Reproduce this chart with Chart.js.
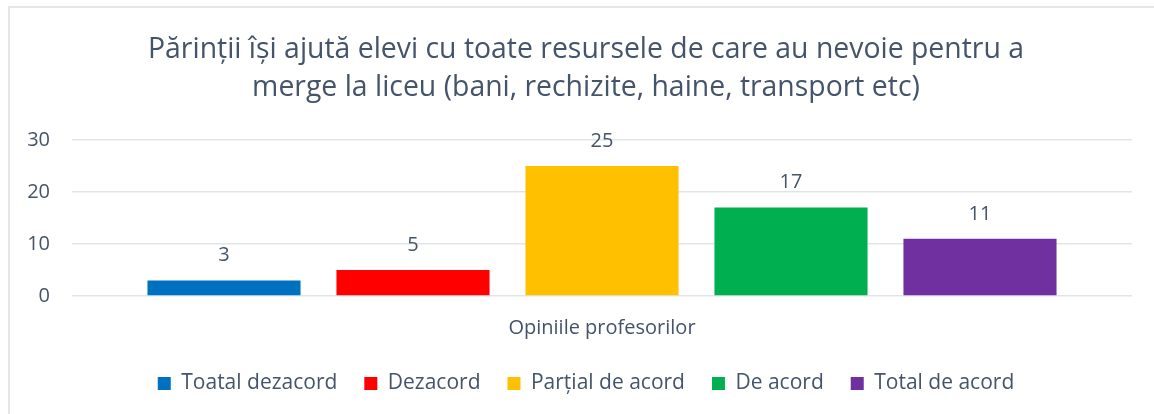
<!DOCTYPE html>
<html><head><meta charset="utf-8">
<script src="https://cdn.jsdelivr.net/npm/chart.js@4/dist/chart.umd.min.js"></script>
<style>
html,body{margin:0;padding:0;background:#fff;width:1154px;height:414px;overflow:hidden;}
#frame{position:absolute;left:8px;top:6px;width:1170px;height:430px;border-left:2px solid #e3e6ea;border-top:2px solid #e3e6ea;box-sizing:border-box;}
canvas{position:absolute;left:0;top:0;}
</style></head>
<body>
<div id="frame"></div>
<canvas id="c" width="1154" height="420"></canvas>
<script>
const titleLines = ["Părinții își ajută elevi cu toate resursele de care au nevoie pentru a", "merge la liceu (bani, rechizite, haine, transport etc)"];
const categories = ["Opiniile profesorilor"];
const seriesNames = ["Toatal dezacord", "Dezacord", "Parțial de acord", "De acord", "Total de acord"];
const seriesValues = [[3], [5], [25], [17], [11]];
const seriesColors = ["#0070C0", "#FF0000", "#FFC000", "#00B050", "#7030A0"];
const yTicks = [0, 10, 20, 30];

const FONT = "'Open Sans', sans-serif";
const TXT = "#44546A";

const valueLabels = {
  id: 'valueLabels',
  afterDatasetsDraw(chart) {
    const ctx = chart.ctx;
    ctx.save();
    ctx.font = "20px " + FONT;
    ctx.fillStyle = TXT;
    ctx.textAlign = "center";
    ctx.textBaseline = "middle";
    chart.data.datasets.forEach((ds, i) => {
      chart.getDatasetMeta(i).data.forEach((bar, j) => {
        ctx.fillText(String(ds.data[j]), bar.x, bar.y - 25);
      });
    });
    ctx.restore();
  }
};

new Chart(document.getElementById('c'), {
  type: 'bar',
  data: {
    labels: categories,
    datasets: seriesNames.map((n, i) => ({
      label: n, data: seriesValues[i], backgroundColor: seriesColors[i],
      categoryPercentage: 0.8915, barPercentage: 0.81
    }))
  },
  options: {
    responsive: false, animation: false,
    layout: { padding: { left: 26, right: 8, top: 31, bottom: 16 } },
    plugins: {
      title: { display: true, text: titleLines, color: TXT,
        font: { family: FONT, size: 28.4, weight: 'normal', lineHeight: 1.338 }, padding: { top: 0, bottom: 33 } },
      legend: { position: 'bottom', labels: { color: TXT, font: { family: FONT, size: 21 },
        boxWidth: 13, boxHeight: 13, padding: 27 } },
      tooltip: { enabled: false }
    },
    scales: {
      x: { grid: { display: false, drawTicks: false }, border: { display: false },
        afterFit: s => { s.height = 50; },
        ticks: { color: TXT, font: { family: FONT, size: 20 }, padding: 20 } },
      y: { min: 0, max: 30, afterBuildTicks: s => { s.ticks = yTicks.map(v => ({ value: v })); },
        afterFit: s => { s.width = 46; },
        grid: { color: "#e1e5ea", lineWidth: 1.5, drawTicks: false }, border: { display: false },
        ticks: { color: TXT, font: { family: FONT, size: 20 }, padding: 22 } },
      yPad: { type: 'linear', position: 'right', display: true,
        afterFit: s => { s.width = 14; },
        grid: { display: false, drawTicks: false }, border: { display: false },
        ticks: { display: false } }
    }
  },
  plugins: [valueLabels]
});
</script>
</body></html>
